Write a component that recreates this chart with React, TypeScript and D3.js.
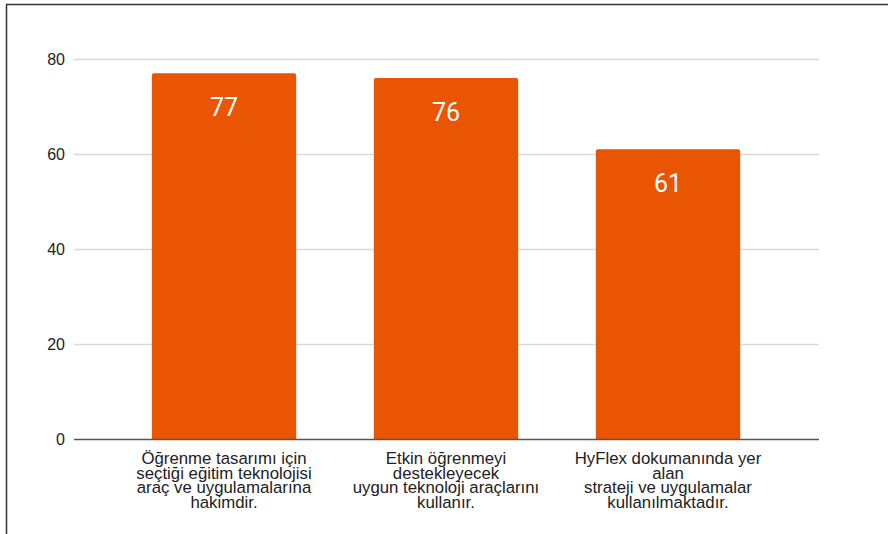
import React, { useRef, useEffect } from 'react';
import * as d3 from 'd3';

const categories = [
  ['Öğrenme tasarımı için', 'seçtiği eğitim teknolojisi', 'araç ve uygulamalarına', 'hakimdir.'],
  ['Etkin öğrenmeyi', 'destekleyecek', 'uygun teknoloji araçlarını', 'kullanır.'],
  ['HyFlex dokumanında yer', 'alan', 'strateji ve uygulamalar', 'kullanılmaktadır.'],
];
const values = [77, 76, 61];
const yTicks = [0, 20, 40, 60, 80];

const App = () => {
  const chartRef = useRef<SVGSVGElement>(null);

  useEffect(() => {
    const svg = d3.select(chartRef.current);
    svg.selectAll('*').remove();

    const left = 74;
    const right = 819;

    const yScale = d3.scaleLinear().domain([0, 80]).range([439, 59]);
    const xScale = d3
      .scaleBand<number>()
      .domain(values.map((_, i) => i))
      .range([113, 779])
      .paddingInner(0.35)
      .paddingOuter(0.175);

    // frame
    svg
      .append('path')
      .attr('d', 'M6.5,534 L6.5,4.5 L888,4.5')
      .attr('fill', 'none')
      .attr('stroke', '#333')
      .attr('stroke-width', 1.5);

    // grid
    svg
      .selectAll('.grid')
      .data(yTicks.filter(t => t !== 0))
      .enter()
      .append('line')
      .attr('x1', left)
      .attr('x2', right)
      .attr('y1', d => yScale(d) + 0.5)
      .attr('y2', d => yScale(d) + 0.5)
      .attr('stroke', '#d9d9d9')
      .attr('stroke-width', 1.5);

    svg
      .selectAll('.tick')
      .data(yTicks)
      .enter()
      .append('text')
      .attr('x', 65)
      .attr('y', d => yScale(d) + 5.5)
      .attr('text-anchor', 'end')
      .style('font-family', 'Liberation Sans, Arial, sans-serif')
      .style('font-size', '16px')
      .style('fill', '#222')
      .text(d => d);

    // bars
    const bw = xScale.bandwidth();
    svg
      .selectAll('.bar')
      .data(values)
      .enter()
      .append('path')
      .attr('fill', '#ea5504')
      .attr('d', (d, i) => {
        const x0 = xScale(i)!;
        const y0 = yScale(d);
        const y1 = yScale(0);
        const r = 2;
        return `M${x0},${y1} L${x0},${y0 + r} Q${x0},${y0} ${x0 + r},${y0} L${x0 + bw - r},${y0} Q${x0 + bw},${y0} ${x0 + bw},${y0 + r} L${x0 + bw},${y1} Z`;
      });

    svg
      .selectAll('.value')
      .data(values)
      .enter()
      .append('text')
      .attr('x', (d, i) => xScale(i)! + bw / 2)
      .attr('y', d => yScale(d) + 43)
      .attr('text-anchor', 'middle')
      .style('font-family', 'Roboto, sans-serif')
      .style('font-size', '25px')
      .style('fill', '#fff')
      .text(d => d);

    // x axis
    svg
      .append('line')
      .attr('x1', left)
      .attr('x2', right)
      .attr('y1', yScale(0) + 0.5)
      .attr('y2', yScale(0) + 0.5)
      .attr('stroke', '#555')
      .attr('stroke-width', 1.5);

    const labels = svg
      .selectAll('.cat')
      .data(categories)
      .enter()
      .append('text')
      .attr('text-anchor', 'middle')
      .style('font-family', 'Liberation Sans, Arial, sans-serif')
      .style('font-size', '16.8px')
      .style('fill', '#222');

    labels
      .selectAll('tspan')
      .data((d, i) => d.map(line => ({ line, i })))
      .enter()
      .append('tspan')
      .attr('x', d => xScale(d.i)! + bw / 2)
      .attr('y', (d, j) => 464 + j * 14.7)
      .text(d => d.line);
  }, []);

  return (
    <svg
      ref={chartRef}
      width={888}
      height={534}
      style={{ position: 'absolute', left: 0, top: 0, background: '#fff' }}
    />
  );
};

export default App;
